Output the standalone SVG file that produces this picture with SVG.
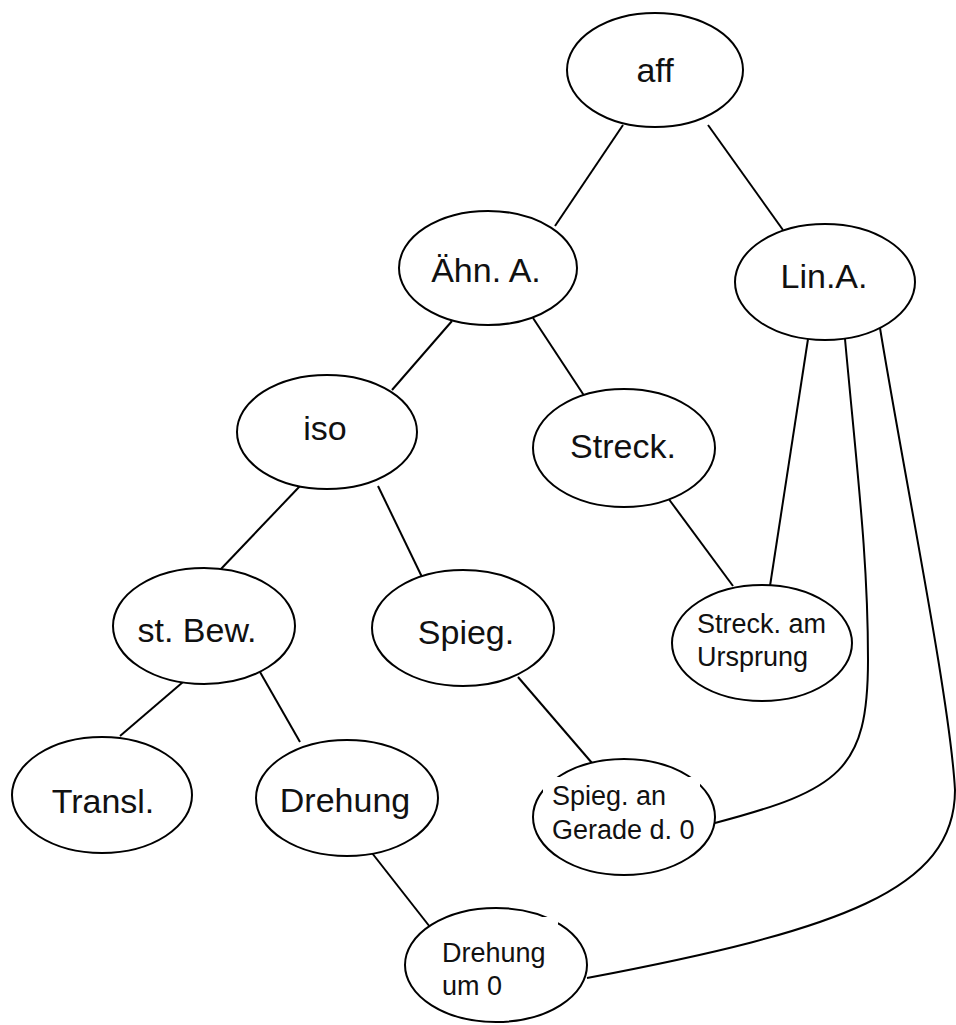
<svg xmlns="http://www.w3.org/2000/svg" width="956" height="1025" viewBox="0 0 956 1025">
  <style>
    .node ellipse { fill: #ffffff; stroke: #000000; stroke-width: 2; }
    .edge { fill: none; stroke: #000000; stroke-width: 2; }
    .big { font-family: "Liberation Sans", Arial, sans-serif; font-size: 34px; fill: #111111; text-anchor: middle; }
    .small { font-family: "Liberation Sans", Arial, sans-serif; font-size: 27px; fill: #111111; }
    .mask { fill: #ffffff; }
  </style>
  <rect width="956" height="1025" fill="#ffffff"/>

  <!-- connectors -->
  <g id="connectors">
    <line class="edge" x1="623" y1="125" x2="555" y2="226"/>
    <line class="edge" x1="708" y1="125" x2="783" y2="230"/>
    <line class="edge" x1="452" y1="321" x2="392" y2="390"/>
    <line class="edge" x1="533" y1="318" x2="585" y2="397"/>
    <line class="edge" x1="300" y1="486" x2="220" y2="570"/>
    <line class="edge" x1="378" y1="486" x2="422" y2="577"/>
    <line class="edge" x1="668" y1="498" x2="733" y2="586"/>
    <line class="edge" x1="808" y1="339" x2="770" y2="586"/>
    <line class="edge" x1="183" y1="682" x2="120" y2="736"/>
    <line class="edge" x1="260" y1="672" x2="300" y2="742"/>
    <line class="edge" x1="518" y1="677" x2="592" y2="763"/>
    <line class="edge" x1="372" y1="853" x2="430" y2="927"/>
    <path class="edge" d="M845,339 C858,480 868,560 868,660 C868,770 840,790 715,823"/>
    <path class="edge" d="M880,328 C905,480 950,700 955,790 C955,890 840,930 587,978"/>
  </g>

  <g id="aff" class="node">
    <ellipse cx="655" cy="70" rx="88" ry="57"/>
    <text class="big" x="655" y="82">aff</text>
  </g>
  <g id="aehn" class="node">
    <ellipse cx="488" cy="268" rx="89" ry="57"/>
    <text class="big" x="486" y="282">Ähn. A.</text>
  </g>
  <g id="lin" class="node">
    <ellipse cx="825" cy="282" rx="90" ry="58"/>
    <text class="big" x="824" y="288">Lin.A.</text>
  </g>
  <g id="iso" class="node">
    <ellipse cx="327" cy="432" rx="90" ry="57"/>
    <text class="big" x="325" y="440">iso</text>
  </g>
  <g id="streck" class="node">
    <ellipse cx="624" cy="448" rx="91" ry="59"/>
    <text class="big" x="623" y="458">Streck.</text>
  </g>
  <g id="streck-ursprung" class="node">
    <ellipse cx="762" cy="643" rx="90" ry="58"/>
    <text class="small" x="697" y="633">Streck. am</text>
    <text class="small" x="697" y="666">Ursprung</text>
  </g>
  <g id="stbew" class="node">
    <ellipse cx="204" cy="626" rx="91" ry="58"/>
    <text class="big" x="197" y="642">st. Bew.</text>
  </g>
  <g id="spieg" class="node">
    <ellipse cx="463" cy="628" rx="91" ry="58"/>
    <text class="big" x="466" y="644">Spieg.</text>
  </g>
  <g id="transl" class="node">
    <ellipse cx="102" cy="795" rx="90" ry="58"/>
    <text class="big" x="103" y="813">Transl.</text>
  </g>
  <g id="drehung" class="node">
    <ellipse cx="347" cy="798" rx="91" ry="58"/>
    <text class="big" x="345" y="812">Drehung</text>
  </g>
  <g id="spieg-gerade" class="node">
    <ellipse cx="624" cy="817" rx="91" ry="58"/>
    <rect class="mask" x="543" y="777" width="157" height="61"/>
    <text class="small" x="552" y="805">Spieg. an</text>
    <text class="small" x="552" y="839">Gerade d. 0</text>
  </g>
  <g id="drehung-null" class="node">
    <ellipse cx="496" cy="965" rx="91" ry="57"/>
    <rect class="mask" x="450" y="917" width="108" height="83"/>
    <text class="small" x="442" y="962">Drehung</text>
    <text class="small" x="442" y="995">um 0</text>
  </g>
</svg>
